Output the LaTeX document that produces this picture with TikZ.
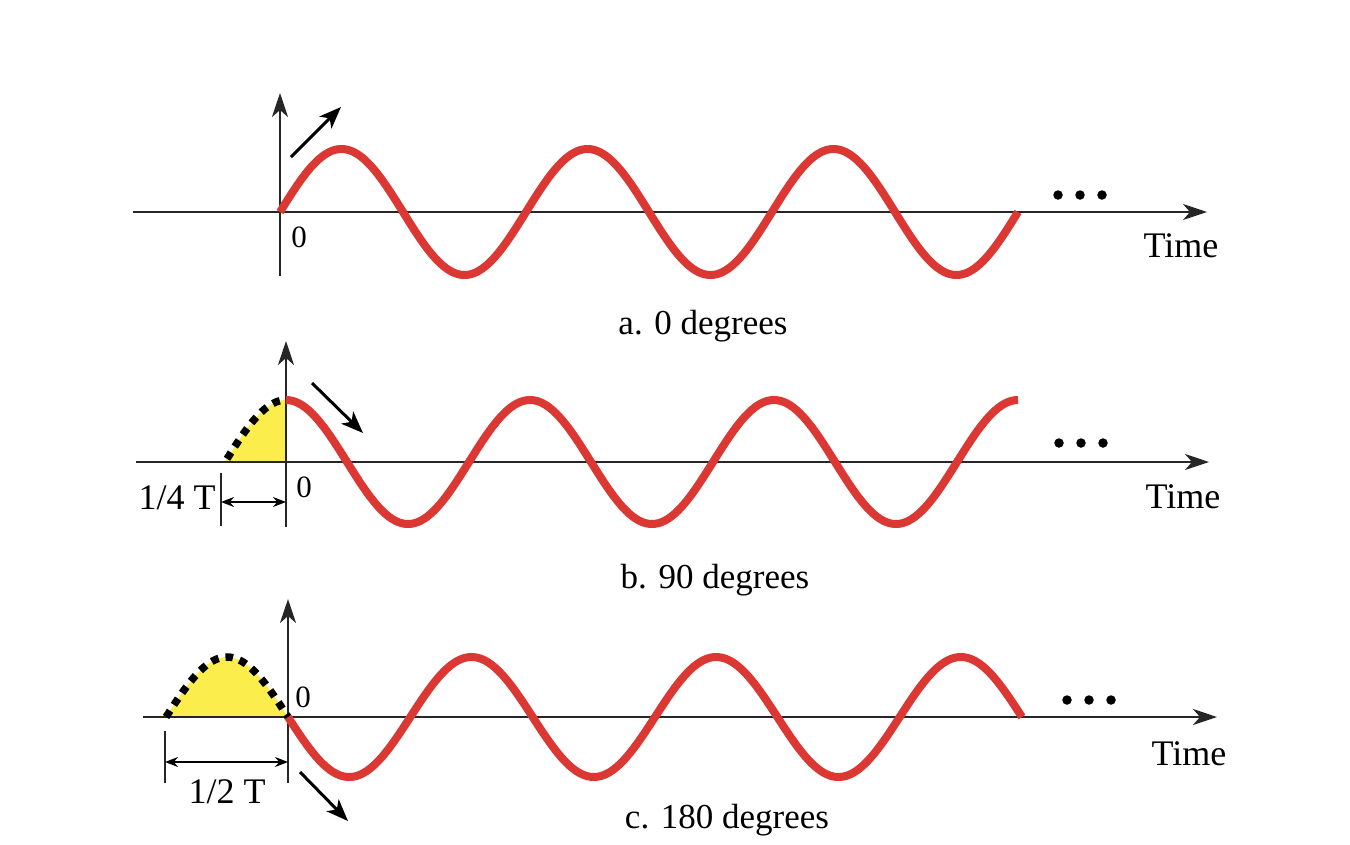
\documentclass[tikz,border=0pt]{standalone}
\usepackage{fontspec}
\setmainfont{Liberation Serif}
\usetikzlibrary{arrows.meta}
\definecolor{wavered}{HTML}{DC3833}
\definecolor{fillyellow}{HTML}{FBEE4C}
\definecolor{axisgray}{HTML}{262626}
\tikzset{
  axis/.style={draw=axisgray, line width=2.2pt, -{Stealth[length=24pt,width=16pt,inset=7pt]}},
  plainaxis/.style={draw=axisgray, line width=2.2pt},
  wave/.style={draw=wavered, line width=8pt},
  dotwave/.style={draw=black, line width=7.5pt, dash pattern=on 7.5pt off 7pt},
  diagarrow/.style={draw=black, line width=3pt, -{Stealth[length=22pt,width=17pt,inset=6pt]}},
  dimarrow/.style={draw=black, line width=1.6pt, {Stealth[length=13pt,width=10pt]}-{Stealth[length=13pt,width=10pt]}},
  lbl/.style={font=\fontsize{36}{40}\selectfont, inner sep=0pt},
  zero/.style={font=\fontsize{31}{36}\selectfont, inner sep=0pt},
  captext/.style={font=\fontsize{35}{40}\selectfont, inner sep=0pt},
  dotmark/.style={fill=black, circle, inner sep=0pt, minimum size=9.5pt}
}
\begin{document}
\begin{tikzpicture}[x=1pt,y=-1pt]
\useasboundingbox (0,0) rectangle (1350,844);
% ---------------- panel a ----------------
\coordinate (a-xl) at (133,212);
\coordinate (a-xr) at (1207,212);
\coordinate (a-yb) at (280,276);
\coordinate (a-yt) at (280,93);
\draw[axis] (a-xl) -- (a-xr);
\draw[axis] (a-yb) -- (a-yt);
\draw[wave] plot[domain=0:738, samples=300] ({280+\x},{212-63*sin(\x/246*360)});
\coordinate (a-d1) at (291,157);
\coordinate (a-d2) at (341,107);
\draw[diagarrow] (a-d1) -- (a-d2);
\node[zero] (a-zero) at (299,237) {0};
\node[dotmark] (a-p1) at (1058,195) {};
\node[dotmark] (a-p2) at (1080,195) {};
\node[dotmark] (a-p3) at (1102,195) {};
\node[lbl] (a-time) at (1181,246) {Time};
\node[captext] (a-cap) at (703,326) {a. 0 degrees};
% ---------------- panel b ----------------
\coordinate (b-xl) at (136,462);
\coordinate (b-xr) at (1209,462);
\coordinate (b-yb) at (286,527);
\coordinate (b-yt) at (286,341);
\fill[fillyellow] (225,462) -- plot[domain=-61:0, samples=60] ({286+\x},{462-62*cos(\x/244*360)}) -- (286,462) -- cycle;
\draw[axis] (b-xl) -- (b-xr);
\draw[axis] (b-yb) -- (b-yt);
\draw[wave] plot[domain=0:732, samples=300] ({286+\x},{462-62*cos(\x/244*360)});
\draw[dotwave] plot[domain=-59:0, samples=60] ({286+\x},{462-62*cos(\x/244*360)});
\coordinate (b-d1) at (312,383);
\coordinate (b-d2) at (363,433);
\draw[diagarrow] (b-d1) -- (b-d2);
\coordinate (b-t1) at (221,473);
\coordinate (b-t2) at (221,526);
\draw[plainaxis] (b-t1) -- (b-t2);
\coordinate (b-m1) at (221,502);
\coordinate (b-m2) at (286,502);
\draw[dimarrow] (b-m1) -- (b-m2);
\node[lbl] (b-quarter) at (177,498) {1/4 T};
\node[zero] (b-zero) at (304,487) {0};
\node[dotmark] (b-p1) at (1059,443) {};
\node[dotmark] (b-p2) at (1081,443) {};
\node[dotmark] (b-p3) at (1103,443) {};
\node[lbl] (b-time) at (1183,497) {Time};
\node[captext] (b-cap) at (715,580) {b. 90 degrees};
% ---------------- panel c ----------------
\coordinate (c-xl) at (143,717);
\coordinate (c-xr) at (1217,717);
\coordinate (c-yb) at (288,783);
\coordinate (c-yt) at (288,599);
\fill[fillyellow] (166,717) -- plot[domain=-122:0, samples=80] ({288+\x},{717+60*sin(\x/244*360)}) -- (288,717) -- cycle;
\draw[axis] (c-xl) -- (c-xr);
\draw[axis] (c-yb) -- (c-yt);
\draw[wave] plot[domain=0:734, samples=300] ({288+\x},{717+60*sin(\x/244.67*360)});
\draw[dotwave] plot[domain=-122:0, samples=80] ({288+\x},{717+60*sin(\x/244*360)});
\coordinate (c-d1) at (300,772);
\coordinate (c-d2) at (348,821);
\draw[diagarrow] (c-d1) -- (c-d2);
\coordinate (c-t1) at (165,731);
\coordinate (c-t2) at (165,783);
\draw[plainaxis] (c-t1) -- (c-t2);
\coordinate (c-m1) at (165,762);
\coordinate (c-m2) at (288,762);
\draw[dimarrow] (c-m1) -- (c-m2);
\node[lbl] (c-half) at (227,792) {1/2 T};
\node[zero] (c-zero) at (303,697) {0};
\node[dotmark] (c-p1) at (1067,700) {};
\node[dotmark] (c-p2) at (1089,700) {};
\node[dotmark] (c-p3) at (1111,700) {};
\node[lbl] (c-time) at (1189,754) {Time};
\node[captext] (c-cap) at (727,820) {c. 180 degrees};
\end{tikzpicture}
\end{document}
